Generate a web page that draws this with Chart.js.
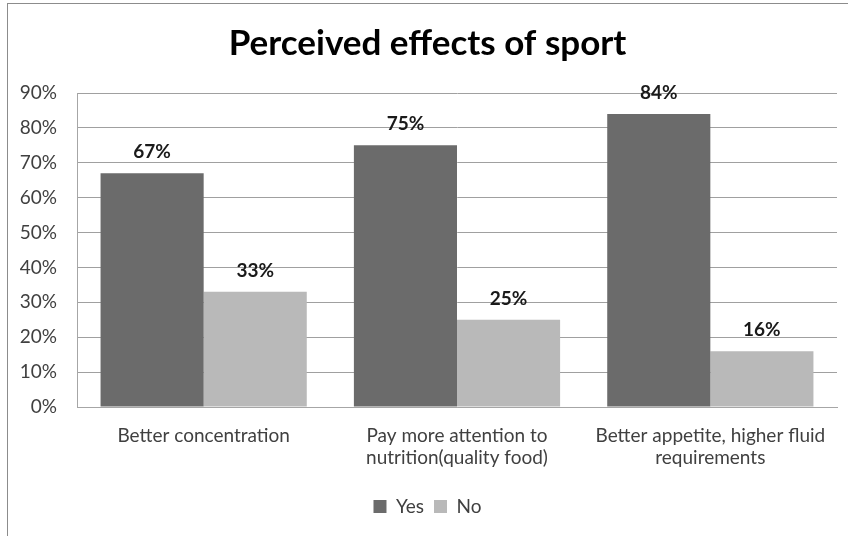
<!DOCTYPE html>
<html>
<head>
<meta charset="utf-8">
<script src="https://cdn.jsdelivr.net/npm/chart.js@4"></script>
<style>
  html, body { margin: 0; padding: 0; background: #fff; }
  #wrap { width: 848px; height: 536px; position: relative; }
</style>
</head>
<body>
<div id="wrap"><canvas id="myChart" width="848" height="536"></canvas></div>
<script>
// survey answers, in percent
const categories = [
  "Better concentration",
  ["Pay more attention to", "nutrition(quality food)"],
  ["Better appetite, higher fluid", "requirements"],
];
const yesValues = [67, 75, 84];
const noValues = [33, 25, 16];
const yTicks = [0, 10, 20, 30, 40, 50, 60, 70, 80, 90];

const FONT = "Lato, 'Open Sans', sans-serif";

// frame around the chart (left and top edges show)
const framePlugin = {
  id: "frame",
  beforeDraw(chart) {
    const c = chart.ctx;
    c.save();
    c.fillStyle = "#fff";
    c.fillRect(0, 0, chart.width, chart.height);
    c.strokeStyle = "#8c8c8c";
    c.lineWidth = 1;
    c.strokeRect(7.5, 3.5, chart.width + 20, chart.height + 20);
    c.restore();
  },
};

// value labels above each bar
const valueLabels = {
  id: "valueLabels",
  afterDatasetsDraw(chart) {
    const c = chart.ctx;
    c.save();
    c.font = "bold 19px " + FONT;
    c.fillStyle = "#1a1a1a";
    c.textAlign = "center";
    c.textBaseline = "middle";
    chart.data.datasets.forEach((ds, i) => {
      chart.getDatasetMeta(i).data.forEach((bar, j) => {
        c.fillText(ds.data[j] + "%", bar.x, bar.y - 21);
      });
    });
    c.restore();
  },
};

const ctx = document.getElementById("myChart");
new Chart(ctx, {
  type: "bar",
  data: {
    labels: categories,
    datasets: [
      {
        label: "Yes",
        data: yesValues,
        backgroundColor: "#6b6b6b",
        categoryPercentage: 0.814,
        barPercentage: 1.0,
      },
      {
        label: "No",
        data: noValues,
        backgroundColor: "#b9b9b9",
        categoryPercentage: 0.814,
        barPercentage: 1.0,
      },
    ],
  },
  options: {
    responsive: false,
    animation: false,
    layout: { padding: { left: 18, right: 11, top: 0, bottom: 10 } },
    scales: {
      x: {
        grid: { display: false, drawTicks: false },
        border: { color: "#a6a6a6" },
        ticks: {
          color: "#404040",
          font: { family: FONT, size: 19 },
          padding: 17,
          maxRotation: 0,
          autoSkip: false,
        },
        afterFit(scale) { scale.height = 80; },
      },
      y: {
        min: 0,
        max: 90,
        afterBuildTicks(scale) {
          scale.ticks = yTicks.map((v) => ({ value: v }));
        },
        grid: { color: "#a0a0a0", drawTicks: false },
        border: { color: "#a6a6a6" },
        ticks: {
          color: "#404040",
          font: { family: FONT, size: 19 },
          padding: 20,
          callback: (v) => v + "%",
        },
        afterFit(scale) { scale.width = 59; },
      },
    },
    plugins: {
      title: {
        display: true,
        text: "Perceived effects of sport",
        color: "#000",
        font: { family: FONT, size: 35, weight: "bold", lineHeight: 1.2 },
        padding: { top: 23, bottom: 28 },
      },
      legend: {
        position: "bottom",
        labels: {
          color: "#404040",
          font: { family: FONT, size: 19 },
          boxWidth: 13,
          boxHeight: 13,
          padding: 10,
        },
      },
      tooltip: { enabled: false },
    },
  },
  plugins: [framePlugin, valueLabels],
});
</script>
</body>
</html>
